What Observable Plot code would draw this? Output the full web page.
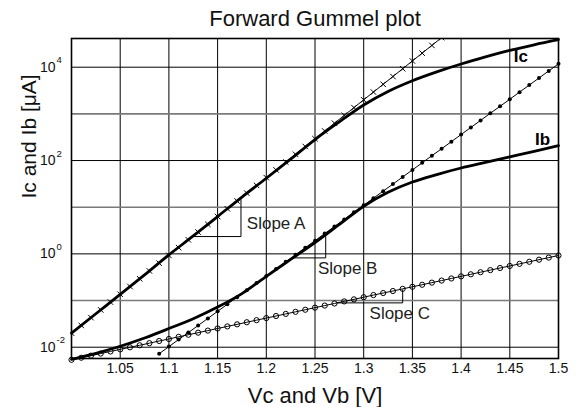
<!DOCTYPE html>
<html><head><meta charset="utf-8">
<script src="https://cdn.jsdelivr.net/npm/d3@7"></script>
<script src="https://cdn.jsdelivr.net/npm/@observablehq/plot@0.6"></script>
<style>body{margin:0;background:#fff;} svg{display:block;}</style>
</head><body><div id="chart"></div>
<script>
// ---- data (V in volts, I in µA) ----
const titleText = "Forward Gummel plot";
const xTitle = "Vc and Vb [V]";
const yTitle = "Ic and Ib [\u03bcA]";

const xTickValues = [1.05, 1.1, 1.15, 1.2, 1.25, 1.3, 1.35, 1.4, 1.45, 1.5];
const xTickLabels = ["1.05", "1.1", "1.15", "1.2", "1.25", "1.3", "1.35", "1.4", "1.45", "1.5"];
const yTickValues = [0.01, 1, 100, 10000];
const yTickExp = ["-2", "0", "2", "4"];
const yGridEven = [0.01, 1, 100, 10000];
const yGridOdd = [0.1, 10, 1000];

// measured Ic and Ib (thick curves)
const measV = [1.00, 1.025, 1.05, 1.075, 1.10, 1.125, 1.15, 1.175, 1.20, 1.225, 1.25, 1.275, 1.30, 1.325, 1.35, 1.375, 1.40, 1.425, 1.45, 1.475, 1.50];
const icMeas = [0.0200, 0.0521, 0.135, 0.355, 0.955, 2.42, 6.31, 16.5, 41.7, 107, 282, 676, 1550, 3020, 5130, 7940, 11700, 16600, 22900, 30200, 38900];
const ibMeas = [0.00550, 0.00741, 0.0105, 0.0158, 0.0251, 0.0407, 0.0724, 0.141, 0.331, 0.759, 1.74, 4.27, 10.5, 20.9, 34.7, 50.1, 69.2, 91.2, 120, 158, 209];

// slope A line (crosses)
const slopeAV = [1.00, 1.01, 1.02, 1.03, 1.04, 1.05, 1.06, 1.07, 1.08, 1.09, 1.10, 1.11, 1.12, 1.13, 1.14, 1.15, 1.16, 1.17, 1.18, 1.19, 1.20, 1.21, 1.22, 1.23, 1.24, 1.25, 1.26, 1.27, 1.28, 1.29, 1.30, 1.31, 1.32, 1.33, 1.34, 1.35, 1.36, 1.37, 1.38];
const slopeAI = [0.0200, 0.0293, 0.0430, 0.0631, 0.0927, 0.136, 0.200, 0.293, 0.430, 0.631, 0.927, 1.36, 2.00, 2.93, 4.30, 6.31, 9.27, 13.6, 20.0, 29.3, 43.0, 63.1, 92.7, 136, 200, 293, 430, 631, 927, 1360, 2000, 2930, 4300, 6310, 9270, 13600, 20000, 29300, 43000];

// slope B line (filled dots)
const slopeBV = [1.09, 1.10, 1.11, 1.12, 1.13, 1.14, 1.15, 1.16, 1.17, 1.18, 1.19, 1.20, 1.21, 1.22, 1.23, 1.24, 1.25, 1.26, 1.27, 1.28, 1.29, 1.30, 1.31, 1.32, 1.33, 1.34, 1.35, 1.36, 1.37, 1.38, 1.39, 1.40, 1.41, 1.42, 1.43, 1.44, 1.45, 1.46, 1.47, 1.48, 1.49, 1.50];
const slopeBI = [0.00724, 0.0103, 0.0146, 0.0206, 0.0292, 0.0414, 0.0587, 0.0833, 0.118, 0.167, 0.237, 0.336, 0.476, 0.675, 0.957, 1.36, 1.92, 2.73, 3.86, 5.48, 7.76, 11.0, 15.6, 22.1, 31.3, 44.4, 63.0, 89.2, 127, 179, 254, 360, 511, 724, 1030, 1450, 2060, 2920, 4140, 5870, 8320, 11800];

// slope C line (open circles)
const slopeCV = [1.00, 1.01, 1.02, 1.03, 1.04, 1.05, 1.06, 1.07, 1.08, 1.09, 1.10, 1.11, 1.12, 1.13, 1.14, 1.15, 1.16, 1.17, 1.18, 1.19, 1.20, 1.21, 1.22, 1.23, 1.24, 1.25, 1.26, 1.27, 1.28, 1.29, 1.30, 1.31, 1.32, 1.33, 1.34, 1.35, 1.36, 1.37, 1.38, 1.39, 1.40, 1.41, 1.42, 1.43, 1.44, 1.45, 1.46, 1.47, 1.48, 1.49, 1.50];
const slopeCI = [0.00537, 0.00595, 0.00660, 0.00731, 0.00811, 0.00899, 0.00996, 0.0110, 0.0122, 0.0136, 0.0150, 0.0167, 0.0185, 0.0205, 0.0227, 0.0252, 0.0279, 0.0309, 0.0343, 0.0380, 0.0421, 0.0466, 0.0517, 0.0573, 0.0635, 0.0704, 0.0780, 0.0865, 0.0959, 0.106, 0.118, 0.131, 0.145, 0.160, 0.178, 0.197, 0.218, 0.242, 0.268, 0.297, 0.330, 0.365, 0.405, 0.449, 0.498, 0.551, 0.611, 0.677, 0.751, 0.832, 0.923];

// slope brackets
const bracketAV = [1.124, 1.174, 1.174];
const bracketAI = [2.35, 2.35, 14.5];
const bracketBV = [1.226, 1.261, 1.261];
const bracketBI = [0.82, 0.82, 2.47];
const bracketCV = [1.273, 1.340, 1.340];
const bracketCI = [0.0891, 0.0891, 0.169];

// annotations
const annotText = ["Slope A", "Slope B", "Slope C"];
const annotV = [1.180, 1.253, 1.306];
const annotI = [4.46, 0.491, 0.0518];
const curveText = ["Ic", "Ib"];
const curveV = [1.454, 1.476];
const curveI = [17000, 284];

// ---- build tables ----
const pts = (V, I) => V.map((v, k) => ({v, i: I[k]}));
const icM = pts(measV, icMeas), ibM = pts(measV, ibMeas);
const sA = pts(slopeAV, slopeAI), sB = pts(slopeBV, slopeBI), sC = pts(slopeCV, slopeCI);
const bA = pts(bracketAV, bracketAI), bB = pts(bracketBV, bracketBI), bC = pts(bracketCV, bracketCI);
const ann = annotText.map((t, k) => ({t, v: annotV[k], i: annotI[k]}));
const cl = curveText.map((t, k) => ({t, v: curveV[k], i: curveI[k]}));

const chart = Plot.plot({
  width: 578, height: 407,
  marginLeft: 71, marginRight: 20, marginTop: 38, marginBottom: 49,
  style: {fontFamily: "'Liberation Sans', Arial, sans-serif", background: "#fff", color: "#000"},
  x: {domain: [1.0, 1.5], axis: null},
  y: {type: "log", domain: [0.00573, 41200], axis: null},
  marks: [
    Plot.ruleX(xTickValues.slice(0, -1), {stroke: "#000", strokeWidth: 1}),
    Plot.ruleY(yGridOdd, {stroke: "#7a7a7a", strokeWidth: 1.6}),
    Plot.ruleY(yGridEven, {stroke: "#000", strokeWidth: 1}),
    Plot.frame({stroke: "#000", strokeWidth: 1.6}),
    // measured curves
    Plot.line(icM, {x: "v", y: "i", stroke: "#000", strokeWidth: 2.8, curve: "monotone-x"}),
    Plot.line(ibM, {x: "v", y: "i", stroke: "#000", strokeWidth: 2.8, curve: "monotone-x"}),
    // slope lines
    Plot.line(sA, {x: "v", y: "i", stroke: "#000", strokeWidth: 1, clip: true}),
    Plot.dot(sA, {x: "v", y: "i", symbol: "times", r: 2.6, stroke: "#000", strokeWidth: 1, clip: true}),
    Plot.line(sB, {x: "v", y: "i", stroke: "#000", strokeWidth: 1}),
    Plot.dot(sB, {x: "v", y: "i", r: 2, fill: "#000", stroke: "none"}),
    Plot.line(sC, {x: "v", y: "i", stroke: "#000", strokeWidth: 1}),
    Plot.dot(sC, {x: "v", y: "i", r: 2.6, fill: "none", stroke: "#000", strokeWidth: 1}),
    // brackets
    Plot.line(bA, {x: "v", y: "i", stroke: "#000", strokeWidth: 1}),
    Plot.line(bB, {x: "v", y: "i", stroke: "#000", strokeWidth: 1}),
    Plot.line(bC, {x: "v", y: "i", stroke: "#000", strokeWidth: 1}),
    Plot.text(ann, {x: "v", y: "i", text: "t", textAnchor: "start", fontSize: 17, fill: "#222"}),
    Plot.text(cl, {x: "v", y: "i", text: "t", textAnchor: "start", fontSize: 17, fontWeight: "bold", fill: "#000"}),
    // axes labels
    Plot.text(yTickValues, {y: d => d, frameAnchor: "left", text: () => "10", textAnchor: "end", dx: -16, fontSize: 14, fill: "#111"}),
    Plot.text(yTickValues, {y: d => d, frameAnchor: "left", text: (d, k) => yTickExp[k], textAnchor: "start", dx: -15, dy: -7, fontSize: 9.5, fill: "#111"}),
    Plot.text(xTickValues, {x: d => d, frameAnchor: "bottom", text: (d, k) => xTickLabels[k], dy: 14, fontSize: 14, fill: "#111"}),
    Plot.text([xTitle], {frameAnchor: "bottom", text: d => d, dy: 44, lineAnchor: "bottom", fontSize: 22, fill: "#111"}),
    Plot.text([yTitle], {frameAnchor: "left", text: d => d, rotate: -90, dx: -36, lineAnchor: "bottom", fontSize: 21, fill: "#111"}),
    Plot.text([titleText], {frameAnchor: "top", text: d => d, dy: -13, lineAnchor: "bottom", fontSize: 22, fill: "#111"})
  ]
});
document.getElementById("chart").append(chart);
</script>
</body></html>
